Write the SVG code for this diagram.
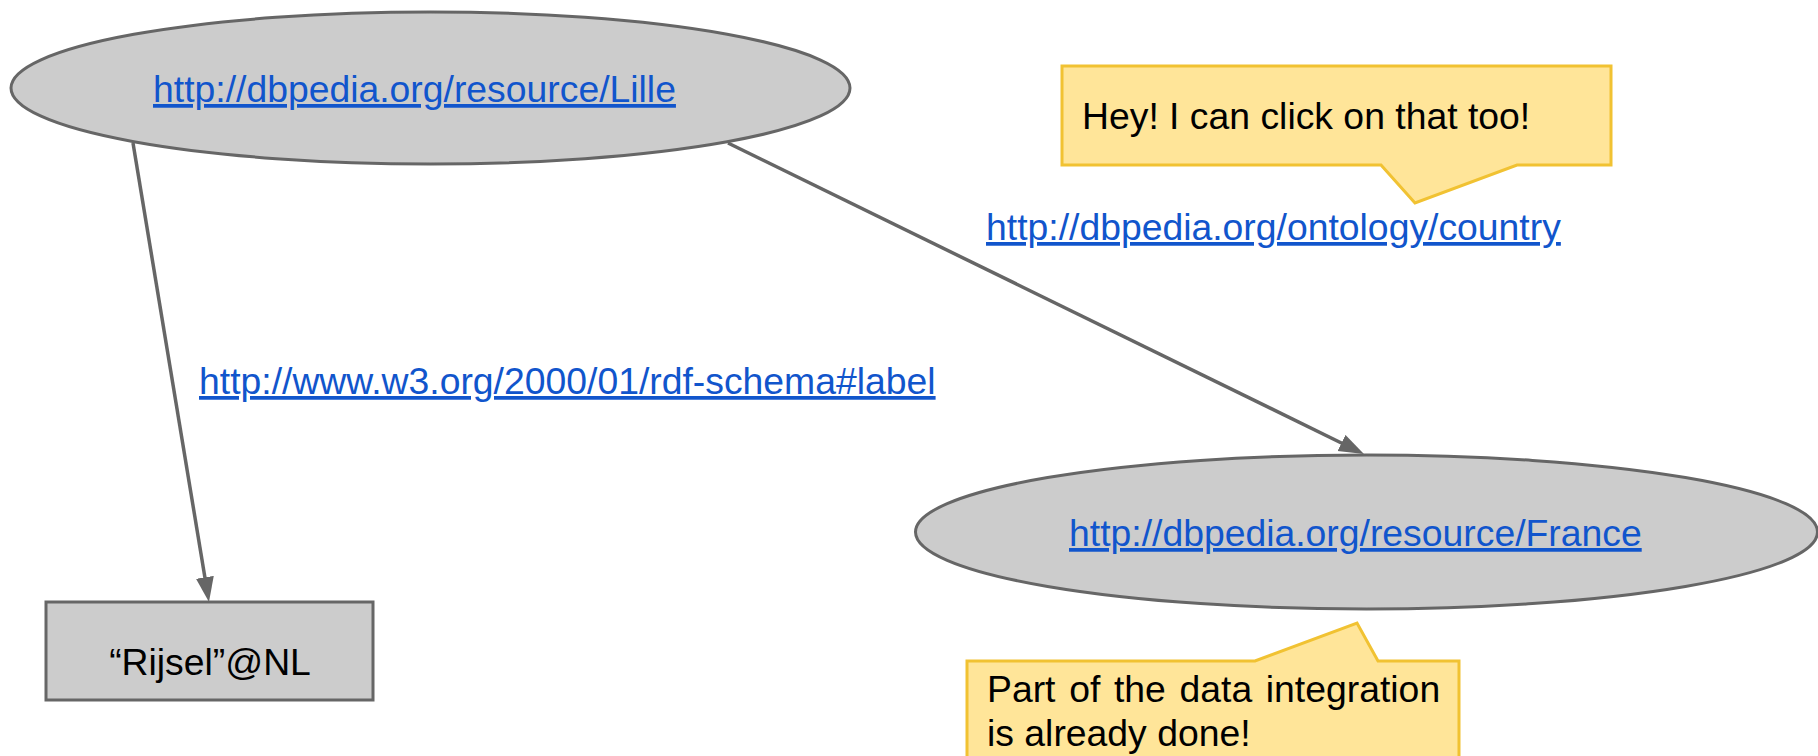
<svg xmlns="http://www.w3.org/2000/svg" width="1818" height="756" viewBox="0 0 1818 756">
<style>
text{font-family:"Liberation Sans",Arial,sans-serif;font-size:37.33px}
.node{fill:#cccccc;stroke:#666666;stroke-width:3}
.link{fill:#1155cc;text-decoration:underline}
.plain{fill:#000000}
.edge{fill:none;stroke:#666666;stroke-width:3.5}
.callout{fill:#ffe599;stroke:#f1c232;stroke-width:3;stroke-linejoin:miter}
</style>
<defs>
<marker id="arrow" markerUnits="userSpaceOnUse" markerWidth="26" markerHeight="20" refX="5" refY="9" orient="auto">
<path d="M0,0 L25,9 L0,18 Z" fill="#666666"/>
</marker>
</defs>
<rect width="1818" height="756" fill="#ffffff"/>
<g id="connectors">
<line class="edge" x1="133" y1="143" x2="205.7" y2="582.3" marker-end="url(#arrow)"/>
<line class="edge" x1="728" y1="143" x2="1346" y2="445.2" marker-end="url(#arrow)"/>
<text id="label-rdfs" class="link" x="199" y="394">http://www.w3.org/2000/01/rdf-schema#label</text>
<text id="label-country" class="link" x="986" y="240">http://dbpedia.org/ontology/country</text>
</g>
<g id="node-lille">
<ellipse class="node" cx="430.5" cy="88" rx="419.5" ry="76"/>
<text class="link" x="153" y="102">http://dbpedia.org/resource/Lille</text>
</g>
<g id="node-france">
<ellipse class="node" cx="1366.5" cy="532" rx="451" ry="77"/>
<text class="link" x="1069" y="546">http://dbpedia.org/resource/France</text>
</g>
<g id="node-rijsel">
<rect class="node" x="46" y="602" width="327" height="98"/>
<text class="plain" x="210" y="675" text-anchor="middle">“Rijsel”@NL</text>
</g>
<g id="callout-click">
<path class="callout" d="M1062,66 H1611 V165 H1517 L1415,203 L1381,165 H1062 Z"/>
<text class="plain" x="1082" y="129">Hey! I can click on that too!</text>
</g>
<g id="callout-integration">
<path class="callout" d="M967,661 H1255 L1357,623 L1378,661 H1459 V780 H967 Z"/>
<text class="plain" x="987" y="702" word-spacing="3.3">Part of the data integration</text>
<text class="plain" x="987" y="746">is already done!</text>
</g>
</svg>
